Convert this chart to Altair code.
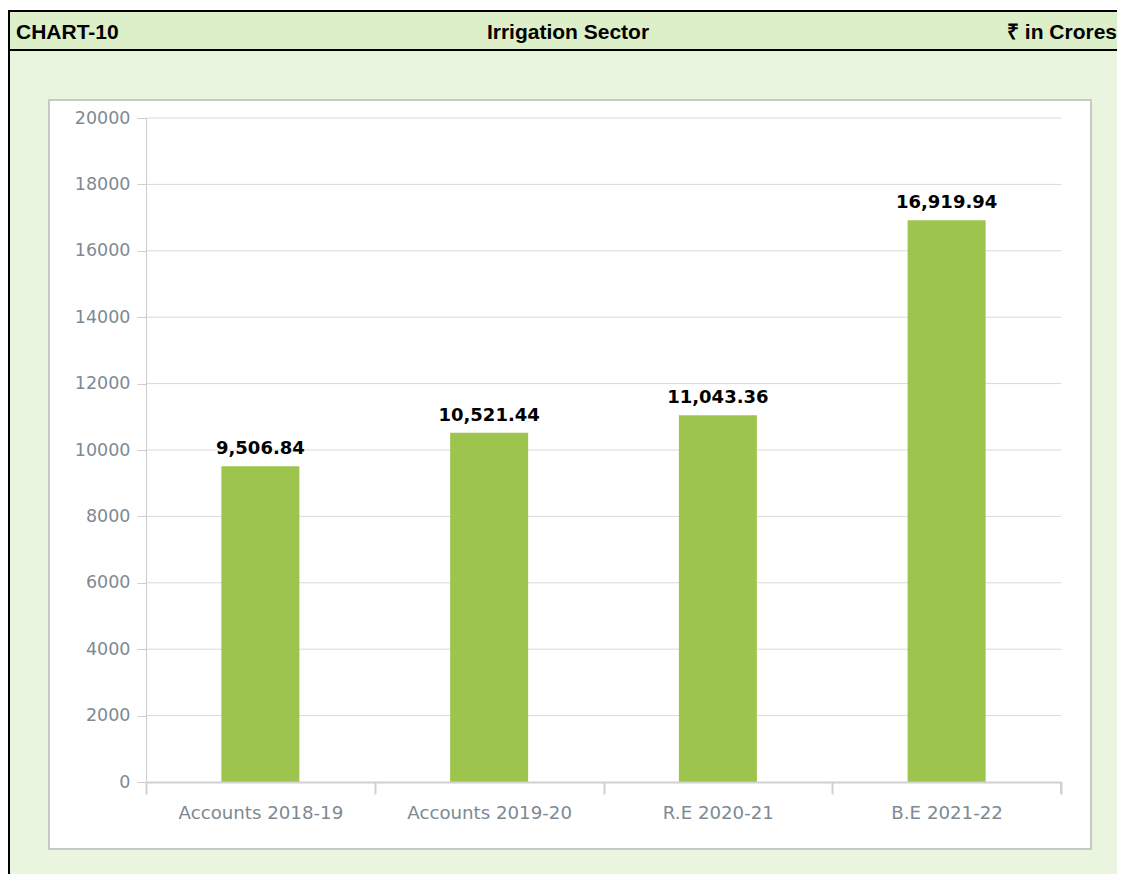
import altair as alt
import pandas as pd

categories = ["Accounts 2018-19", "Accounts 2019-20", "R.E 2020-21", "B.E 2021-22"]
values = [9506.84, 10521.44, 11043.36, 16919.94]
y_ticks = [0, 2000, 4000, 6000, 8000, 10000, 12000, 14000, 16000, 18000, 20000]
header_left = "CHART-10"
header_center = "Irrigation Sector"
header_right = "₹ in Crores"

W, H = 915, 664
FONT = "DejaVu Sans"
LABEL_GRAY = "#7d8a93"
df = pd.DataFrame({"cat": categories, "val": values})
grid_df = pd.DataFrame({"val": y_ticks[1:]})
one = pd.DataFrame({"a": [0]})


def box(x, x2, y, y2, **kw):
    return alt.Chart(one).mark_rect(**kw).encode(
        x=alt.value(x), x2=alt.value(x2), y=alt.value(y), y2=alt.value(y2)
    )


body = box(-137, 975, -67, 760, color="#eaf5e0")
header = box(-137, 975, -106, -69, color="#dcefc8")
top_line = box(-138, 975, -108, -106, color="#000000")
mid_line = box(-138, 975, -69, -67, color="#000000")
left_line = box(-138, -136, -108, 760, color="#000000")
panel = box(-97, 945, -18, 731, fill="#ffffff", stroke="#c8c8c8", strokeWidth=2)


def htext(txt, x, align):
    return alt.Chart(one).mark_text(
        text=txt, font="Liberation Sans", fontSize=21, fontWeight="bold",
        color="#000000", align=align, baseline="alphabetic"
    ).encode(x=alt.value(x), y=alt.value(-79))


t1 = htext(header_left, -130, "left")
t2 = htext(header_center, 422, "center")
t3 = htext(header_right, 971, "right")

yscale = alt.Scale(domain=[0, 20000], nice=False)
yaxis = alt.Axis(
    values=y_ticks, labelFont=FONT, labelFontSize=17.5, labelColor=LABEL_GRAY,
    labelPadding=7, domainColor="#cccccc", domainWidth=1,
    tickColor="#cccccc", tickSize=9, grid=False, zindex=1,
    format="d",
)

grid = alt.Chart(grid_df).mark_rule(color="#d9d9d9", strokeWidth=1).encode(
    y=alt.Y("val:Q", scale=yscale, axis=yaxis, title=None),
    x=alt.value(0), x2=alt.value(W),
)

xenc = alt.X(
    "cat:N", sort=categories, title=None,
    scale=alt.Scale(paddingInner=0, paddingOuter=0),
    axis=alt.Axis(
        labelAngle=0, labelFont=FONT, labelFontSize=18.2, labelColor=LABEL_GRAY,
        labelPadding=10, domainColor="#d0d0d0", domainWidth=2,
        tickColor="#d0d0d0", tickWidth=2, tickSize=12, tickBand="extent",
        grid=False, zindex=1,
    ),
)
yenc = alt.Y("val:Q", title=None, scale=yscale, axis=yaxis)

bars = alt.Chart(df).mark_bar(size=78, color="#9dc44d").encode(x=xenc, y=yenc)
labels = alt.Chart(df).mark_text(
    font=FONT, fontSize=18, fontWeight="bold", color="#000000",
    baseline="alphabetic", dy=-12
).encode(
    x=alt.X("cat:N", sort=categories),
    y=alt.Y("val:Q"),
    text=alt.Text("val:Q", format=",.2f"),
)
end_tick = alt.Chart(one).mark_rule(color="#d0d0d0", strokeWidth=2).encode(
    x=alt.value(W), y=alt.value(H), y2=alt.value(H + 12)
)

chart = alt.layer(
    body, header, top_line, mid_line, left_line, panel, t1, t2, t3,
    grid, bars, labels, end_tick
).properties(
    width=W, height=H,
    autosize=alt.AutoSizeParams(type="none"),
    padding={"left": 138, "top": 110, "right": 56, "bottom": 92},
).configure_view(stroke=None, fill=None).configure(background="#ffffff")

chart.save("out.html", embed_options={"renderer": "svg", "actions": False})
